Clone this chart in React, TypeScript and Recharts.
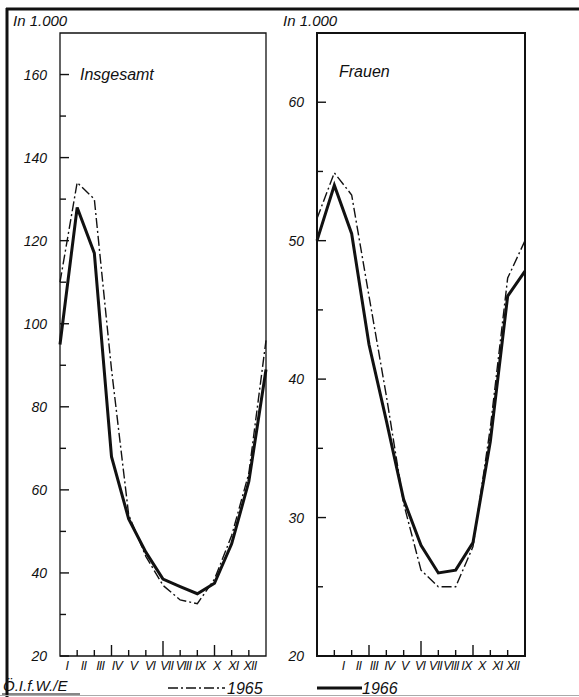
import { LineChart, Line, XAxis, YAxis, ReferenceArea } from "recharts";

// month labels; the 13th point is January of the following year
const months = ["I", "II", "III", "IV", "V", "VI", "VII", "VIII", "IX", "X", "XI", "XII"];

const insgesamt1965 = [110, 134, 130, 89, 54, 44, 37, 33.5, 32.6, 38.5, 49, 64, 96];
const insgesamt1966 = [95, 128, 117, 68, 53, 45, 38.5, 36.7, 35, 37.5, 47, 62, 89];

const frauen1965 = [51.6, 54.9, 53.3, 46, 38.8, 31, 26.2, 25, 25, 27.9, 36.5, 47.3, 50];
const frauen1966 = [50, 54, 50.5, 42.5, 37, 31.3, 28, 26, 26.2, 28.2, 35.5, 46, 47.8];

const insgesamtTicks = [20, 30, 40, 50, 60, 70, 80, 90, 100, 110, 120, 130, 140, 150, 160];
const insgesamtLabels = [20, 40, 60, 80, 100, 120, 140, 160];
const frauenTicks = [20, 25, 30, 35, 40, 45, 50, 55, 60];
const frauenLabels = [20, 30, 40, 50, 60];

const monthMarks = [1, 2, 3, 4, 5, 6, 7, 8, 9, 10, 11];

const FONT = "'Liberation Sans', Arial, sans-serif";
const INK = "#111";

function buildRows(a: number[], b: number[]) {
  return a.map((v, i) => ({ m: i, y1965: v, y1966: b[i] }));
}

interface PanelProps {
  rows: { m: number; y1965: number; y1966: number }[];
  domain: [number, number];
  ticks: number[];
  labels: number[];
  left: number;
  width: number;
  yAxisWidth: number;
  marginRight: number;
  labelStart: number;
  labelStep: number;
  frameWidth: number;
}

function Panel(p: PanelProps) {
  const labelPos = months.map((_, i) => p.labelStart + i * p.labelStep);
  const xTicks = [...monthMarks, ...labelPos].sort((a, b) => a - b);

  const yTick = (props: any) => {
    const { x, y, payload } = props;
    const ax = x + 13;
    const major = p.labels.includes(payload.value);
    return (
      <g>
        <line x1={ax} x2={ax + (major ? 9 : 6)} y1={y} y2={y} stroke={INK} strokeWidth={1.4} />
        {major && (
          <text x={x} y={y} dy={5} textAnchor="end" fontSize={14} fontStyle="italic"
            fontFamily={FONT} fill={INK}>
            {payload.value}
          </text>
        )}
      </g>
    );
  };

  // bottom axis: integer values are month marks pointing up, the others are labels
  const xTick = (props: any) => {
    const { x, y, payload } = props;
    const v = payload.value;
    const li = labelPos.indexOf(v);
    if (li < 0) {
      const len = v === 6 ? 15 : v % 3 === 0 ? 11 : 6;
      return <line x1={x} x2={x} y1={y} y2={y - len} stroke={INK} strokeWidth={1.4} />;
    }
    return (
      <text x={x} y={y} dy={14} textAnchor="middle" fontSize={12.5} letterSpacing={-0.8}
        fontStyle="italic" fontFamily={FONT} fill={INK}>
        {months[li]}
      </text>
    );
  };

  return (
    <div style={{ position: "absolute", left: p.left, top: 0 }}>
      <LineChart
        width={p.width}
        height={697}
        data={p.rows}
        margin={{ top: 33, right: p.marginRight, bottom: 11, left: 0 }}
      >
        <XAxis
          dataKey="m"
          type="number"
          domain={[0, 12]}
          ticks={xTicks}
          interval={0}
          height={30}
          tickSize={0}
          tickMargin={0}
          tickLine={false}
          axisLine={false}
          tick={xTick}
        />
        <YAxis
          type="number"
          domain={p.domain}
          ticks={p.ticks}
          interval={0}
          width={p.yAxisWidth}
          tickSize={0}
          tickMargin={13}
          tickLine={false}
          axisLine={false}
          tick={yTick}
        />
        <ReferenceArea
          x1={0}
          x2={12}
          y1={p.domain[0]}
          y2={p.domain[1]}
          fill="none"
          stroke={INK}
          strokeWidth={p.frameWidth}
          fillOpacity={0}
          ifOverflow="visible"
        />
        <ReferenceArea
          x1={0}
          x2={12}
          y1={p.domain[0]}
          y2={p.domain[0]}
          stroke={INK}
          strokeWidth={2}
          ifOverflow="visible"
        />
        <Line
          dataKey="y1965"
          stroke={INK}
          strokeWidth={1.4}
          strokeDasharray="10 3 2 3"
          dot={false}
          isAnimationActive={false}
        />
        <Line
          dataKey="y1966"
          stroke={INK}
          strokeWidth={3}
          dot={false}
          isAnimationActive={false}
        />
      </LineChart>
    </div>
  );
}

export default function App() {
  const textStyle = { fontFamily: FONT, fontStyle: "italic" as const, fill: INK };
  return (
    <div style={{ position: "absolute", left: 0, top: 0, width: 579, height: 697, background: "#fff" }}>
      <Panel
        rows={buildRows(insgesamt1965, insgesamt1966)}
        domain={[20, 170]}
        ticks={insgesamtTicks}
        labels={insgesamtLabels}
        left={0}
        width={290}
        yAxisWidth={60}
        marginRight={24}
        labelStart={0.4}
        labelStep={0.97}
        frameWidth={1.3}
      />
      <Panel
        rows={buildRows(frauen1965, frauen1966)}
        domain={[20, 65]}
        ticks={frauenTicks}
        labels={frauenLabels}
        left={260}
        width={300}
        yAxisWidth={57}
        marginRight={35}
        labelStart={1.5}
        labelStep={0.89}
        frameWidth={2}
      />
      <svg width={579} height={697} style={{ position: "absolute", left: 0, top: 0, pointerEvents: "none" }}>
        <line x1={7} x2={7} y1={8} y2={697} stroke={INK} strokeWidth={3} />
        <line x1={6} x2={579} y1={9} y2={9} stroke={INK} strokeWidth={3} />
        <line x1={0} x2={579} y1={695.5} y2={695.5} stroke="#aaa" strokeWidth={1} />
        <line x1={2} x2={80} y1={694} y2={694} stroke={INK} strokeWidth={1.2} />
        <text x={13} y={26} fontSize={15} {...textStyle}>In 1.000</text>
        <text x={283} y={26} fontSize={15} {...textStyle}>In 1.000</text>
        <text x={80} y={80} fontSize={16} {...textStyle}>Insgesamt</text>
        <text x={339} y={77} fontSize={16} {...textStyle}>Frauen</text>
        <text x={3} y={691} fontSize={15} {...textStyle}>Ö.I.f.W./E</text>
        <line x1={168} x2={225} y1={688} y2={688} stroke={INK} strokeWidth={1.4} strokeDasharray="10 3 2 3" />
        <text x={227} y={694} fontSize={16} {...textStyle}>1965</text>
        <line x1={317} x2={362} y1={688} y2={688} stroke={INK} strokeWidth={3} />
        <text x={362} y={694} fontSize={16} {...textStyle}>1966</text>
      </svg>
    </div>
  );
}
